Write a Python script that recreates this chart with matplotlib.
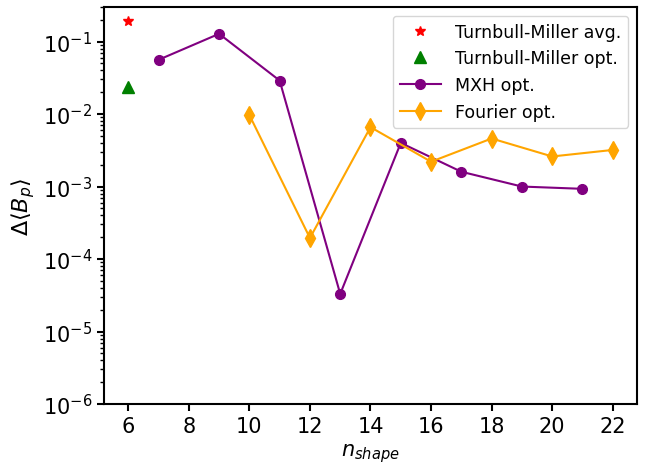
import matplotlib
matplotlib.use("Agg")
import matplotlib.pyplot as plt

tm_avg_x = [6]
tm_avg_y = [0.195]
tm_opt_x = [6]
tm_opt_y = [0.024]
mxh_x = [7, 9, 11, 13, 15, 17, 19, 21]
mxh_y = [0.056, 0.128, 0.029, 3.3e-5, 0.0040, 0.0016, 0.0010, 0.00093]
four_x = [10, 12, 14, 16, 18, 20, 22]
four_y = [0.0097, 0.000195, 0.0066, 0.0022, 0.0046, 0.0026, 0.0032]
xticks = [6, 8, 10, 12, 14, 16, 18, 20, 22]

plt.rcParams['font.size'] = 12
fig = plt.figure(figsize=(6.45, 4.64), dpi=100)
ax = fig.add_axes([104/645, 1-405/464, (637-104)/645, (405-8)/464])
ax.plot(tm_avg_x, tm_avg_y, '*', color='red', markersize=7, label='Turnbull-Miller avg.')
ax.plot(tm_opt_x, tm_opt_y, '^', color='green', markersize=8, label='Turnbull-Miller opt.')
ax.plot(mxh_x, mxh_y, '-o', color='purple', markersize=7, label='MXH opt.')
ax.plot(four_x, four_y, '-d', color='orange', markersize=9, label='Fourier opt.')
ax.set_yscale('log')
ax.set_ylim(1e-6, 0.3)
ax.set_xlim(5.2, 22.8)
ax.set_xticks(xticks)
ax.set_xlabel(r'$n_{shape}$', fontsize=15)
ax.set_ylabel(r'$\Delta \langle B_p \rangle$', fontsize=16)
for s in ax.spines.values():
    s.set_linewidth(1.5)
ax.tick_params(which='major', width=1.5, length=5, labelsize=15)
ax.tick_params(which='minor', width=1.0, length=3)
ax.legend(loc='upper right', fontsize=12.5, handlelength=2.4)
fig.savefig('out.png', dpi=100)
